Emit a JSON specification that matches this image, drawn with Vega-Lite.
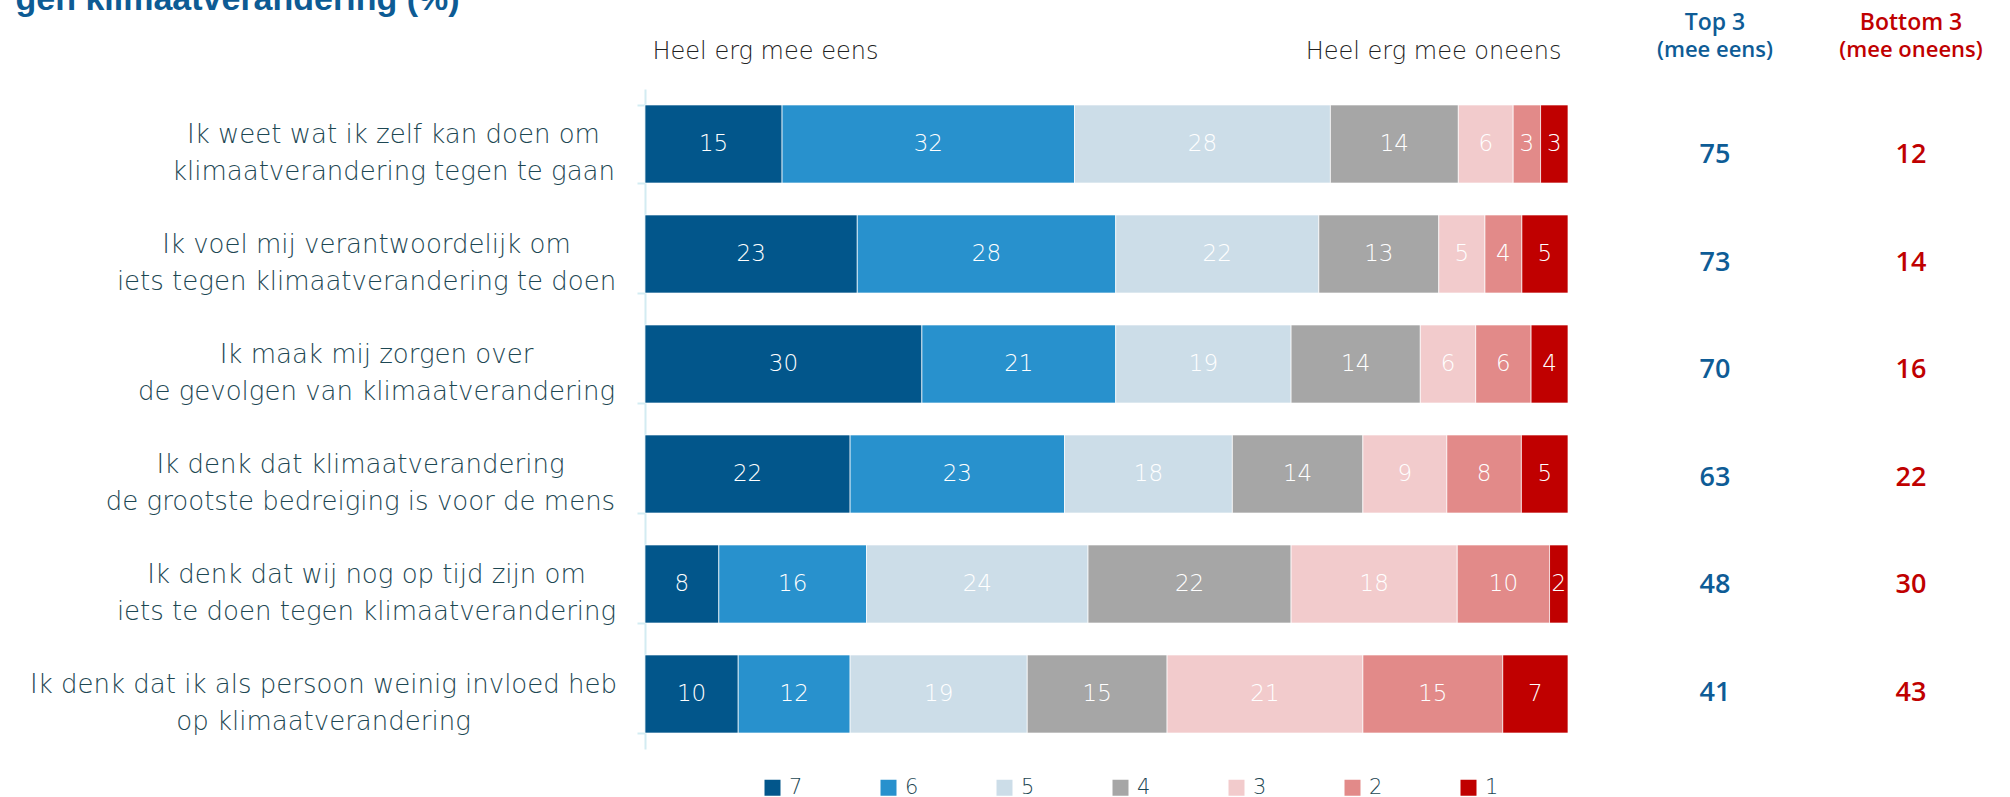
{
  "$schema": "https://vega.github.io/schema/vega-lite/v6.json",
  "padding": {"left": 15, "top": -17, "right": 0, "bottom": 0},
  "background": "white",
  "config": {"view": {"stroke": null}, "font": "DejaVu Sans"},
  "title": {"text": "gen klimaatverandering (%)", "anchor": "start", "font": "Liberation Sans", "fontSize": 34, "fontWeight": "bold", "color": "#0d5b94", "dx": -14, "offset": -5},
  "datasets": {
    "scores": [
      {"statement": "Ik weet wat ik zelf kan doen om\nklimaatverandering tegen te gaan", "score": 7, "pct": 15},
      {"statement": "Ik weet wat ik zelf kan doen om\nklimaatverandering tegen te gaan", "score": 6, "pct": 32},
      {"statement": "Ik weet wat ik zelf kan doen om\nklimaatverandering tegen te gaan", "score": 5, "pct": 28},
      {"statement": "Ik weet wat ik zelf kan doen om\nklimaatverandering tegen te gaan", "score": 4, "pct": 14},
      {"statement": "Ik weet wat ik zelf kan doen om\nklimaatverandering tegen te gaan", "score": 3, "pct": 6},
      {"statement": "Ik weet wat ik zelf kan doen om\nklimaatverandering tegen te gaan", "score": 2, "pct": 3},
      {"statement": "Ik weet wat ik zelf kan doen om\nklimaatverandering tegen te gaan", "score": 1, "pct": 3},
      {"statement": "Ik voel mij verantwoordelijk om\niets tegen klimaatverandering te doen", "score": 7, "pct": 23},
      {"statement": "Ik voel mij verantwoordelijk om\niets tegen klimaatverandering te doen", "score": 6, "pct": 28},
      {"statement": "Ik voel mij verantwoordelijk om\niets tegen klimaatverandering te doen", "score": 5, "pct": 22},
      {"statement": "Ik voel mij verantwoordelijk om\niets tegen klimaatverandering te doen", "score": 4, "pct": 13},
      {"statement": "Ik voel mij verantwoordelijk om\niets tegen klimaatverandering te doen", "score": 3, "pct": 5},
      {"statement": "Ik voel mij verantwoordelijk om\niets tegen klimaatverandering te doen", "score": 2, "pct": 4},
      {"statement": "Ik voel mij verantwoordelijk om\niets tegen klimaatverandering te doen", "score": 1, "pct": 5},
      {"statement": "Ik maak mij zorgen over\nde gevolgen van klimaatverandering", "score": 7, "pct": 30},
      {"statement": "Ik maak mij zorgen over\nde gevolgen van klimaatverandering", "score": 6, "pct": 21},
      {"statement": "Ik maak mij zorgen over\nde gevolgen van klimaatverandering", "score": 5, "pct": 19},
      {"statement": "Ik maak mij zorgen over\nde gevolgen van klimaatverandering", "score": 4, "pct": 14},
      {"statement": "Ik maak mij zorgen over\nde gevolgen van klimaatverandering", "score": 3, "pct": 6},
      {"statement": "Ik maak mij zorgen over\nde gevolgen van klimaatverandering", "score": 2, "pct": 6},
      {"statement": "Ik maak mij zorgen over\nde gevolgen van klimaatverandering", "score": 1, "pct": 4},
      {"statement": "Ik denk dat klimaatverandering\nde grootste bedreiging is voor de mens", "score": 7, "pct": 22},
      {"statement": "Ik denk dat klimaatverandering\nde grootste bedreiging is voor de mens", "score": 6, "pct": 23},
      {"statement": "Ik denk dat klimaatverandering\nde grootste bedreiging is voor de mens", "score": 5, "pct": 18},
      {"statement": "Ik denk dat klimaatverandering\nde grootste bedreiging is voor de mens", "score": 4, "pct": 14},
      {"statement": "Ik denk dat klimaatverandering\nde grootste bedreiging is voor de mens", "score": 3, "pct": 9},
      {"statement": "Ik denk dat klimaatverandering\nde grootste bedreiging is voor de mens", "score": 2, "pct": 8},
      {"statement": "Ik denk dat klimaatverandering\nde grootste bedreiging is voor de mens", "score": 1, "pct": 5},
      {"statement": "Ik denk dat wij nog op tijd zijn om\niets te doen tegen klimaatverandering", "score": 7, "pct": 8},
      {"statement": "Ik denk dat wij nog op tijd zijn om\niets te doen tegen klimaatverandering", "score": 6, "pct": 16},
      {"statement": "Ik denk dat wij nog op tijd zijn om\niets te doen tegen klimaatverandering", "score": 5, "pct": 24},
      {"statement": "Ik denk dat wij nog op tijd zijn om\niets te doen tegen klimaatverandering", "score": 4, "pct": 22},
      {"statement": "Ik denk dat wij nog op tijd zijn om\niets te doen tegen klimaatverandering", "score": 3, "pct": 18},
      {"statement": "Ik denk dat wij nog op tijd zijn om\niets te doen tegen klimaatverandering", "score": 2, "pct": 10},
      {"statement": "Ik denk dat wij nog op tijd zijn om\niets te doen tegen klimaatverandering", "score": 1, "pct": 2},
      {"statement": "Ik denk dat ik als persoon weinig invloed heb\nop klimaatverandering", "score": 7, "pct": 10},
      {"statement": "Ik denk dat ik als persoon weinig invloed heb\nop klimaatverandering", "score": 6, "pct": 12},
      {"statement": "Ik denk dat ik als persoon weinig invloed heb\nop klimaatverandering", "score": 5, "pct": 19},
      {"statement": "Ik denk dat ik als persoon weinig invloed heb\nop klimaatverandering", "score": 4, "pct": 15},
      {"statement": "Ik denk dat ik als persoon weinig invloed heb\nop klimaatverandering", "score": 3, "pct": 21},
      {"statement": "Ik denk dat ik als persoon weinig invloed heb\nop klimaatverandering", "score": 2, "pct": 15},
      {"statement": "Ik denk dat ik als persoon weinig invloed heb\nop klimaatverandering", "score": 1, "pct": 7}
    ],
    "summary": [
      {"statement": "Ik weet wat ik zelf kan doen om\nklimaatverandering tegen te gaan", "top3": 75, "bottom3": 12},
      {"statement": "Ik voel mij verantwoordelijk om\niets tegen klimaatverandering te doen", "top3": 73, "bottom3": 14},
      {"statement": "Ik maak mij zorgen over\nde gevolgen van klimaatverandering", "top3": 70, "bottom3": 16},
      {"statement": "Ik denk dat klimaatverandering\nde grootste bedreiging is voor de mens", "top3": 63, "bottom3": 22},
      {"statement": "Ik denk dat wij nog op tijd zijn om\niets te doen tegen klimaatverandering", "top3": 48, "bottom3": 30},
      {"statement": "Ik denk dat ik als persoon weinig invloed heb\nop klimaatverandering", "top3": 41, "bottom3": 43}
    ]
  },
  "spacing": 46,
  "bounds": "flush",
  "resolve": {"scale": {"y": "independent", "color": "independent"}, "legend": {"color": "independent"}},
  "hconcat": [
    {
      "width": 923,
      "height": 660,
      "data": {"name": "scores"},
      "encoding": {
        "y": {
          "field": "statement", "type": "nominal", "sort": null,
          "scale": {"paddingInner": 0.29, "paddingOuter": 0.145},
          "axis": {
            "title": null,
            "labelExpr": "isValid(datum.value) ? split(datum.value, '\\n') : ''",
            "labelAlign": "center",
            "labelBaseline": "middle",
            "labelFont": "DejaVu Sans",
            "labelFontSize": 26,
            "labelFontWeight": 200,
            "labelColor": "#1d4753",
            "labelLineHeight": 37,
            "labelOffset": -10,
            "labelLimit": 1000,
            "labelPadding": {
              "condition": [
                {"test": "isValid(datum.value) && indexof(datum.value, 'Ik weet') >= 0", "value": 244},
                {"test": "isValid(datum.value) && indexof(datum.value, 'Ik voel') >= 0", "value": 271},
                {"test": "isValid(datum.value) && indexof(datum.value, 'Ik maak') >= 0", "value": 261},
                {"test": "isValid(datum.value) && indexof(datum.value, 'bedreiging') >= 0", "value": 277},
                {"test": "isValid(datum.value) && indexof(datum.value, 'op tijd') >= 0", "value": 271}
              ],
              "value": 314
            },
            "domainColor": "#d3ecf2",
            "domainWidth": 2,
            "ticks": true,
            "tickBand": "extent",
            "tickColor": "#d3ecf2",
            "tickWidth": 2,
            "tickSize": 8,
            "grid": false
          }
        },
        "x": {
          "field": "pct", "type": "quantitative", "stack": "normalize",
          "scale": {"domain": [0, 1]},
          "axis": {
            "orient": "top",
            "title": null,
            "values": [0, 1],
            "labelExpr": "datum.value == 0 ? 'Heel erg mee eens' : 'Heel erg mee oneens'",
            "labelFlush": true,
            "labelFlushOffset": -7,
            "labelBaseline": "alphabetic",
            "labelPadding": 31,
            "labelLimit": 500,
            "labelFont": "DejaVu Sans",
            "labelFontSize": 24,
            "labelFontWeight": 200,
            "labelColor": "#222222",
            "domain": false,
            "ticks": false,
            "grid": false
          }
        },
        "order": {"field": "score", "sort": "descending"}
      },
      "layer": [
        {
          "mark": {"type": "bar", "stroke": "#ffffff", "strokeWidth": 1, "strokeOpacity": 0.7},
          "encoding": {
            "color": {
              "field": "score", "type": "ordinal",
              "scale": {"domain": [7, 6, 5, 4, 3, 2, 1], "range": ["#02568b", "#2891cd", "#ccdde8", "#a6a6a6", "#f2cbcc", "#e28a89", "#c00000"]},
              "legend": {
                "orient": "none", "legendX": 117, "legendY": 688,
                "direction": "horizontal", "columns": 7, "title": null,
                "symbolType": "square", "symbolSize": 256, "symbolStrokeWidth": 0,
                "labelFont": "DejaVu Sans", "labelFontSize": 21, "labelFontWeight": 200, "labelColor": "#1d4753",
                "labelOffset": 6, "columnPadding": 75, "gridAlign": "all", "padding": 0
              }
            }
          }
        },
        {
          "mark": {"type": "text", "color": "#ffffff", "font": "DejaVu Sans", "fontSize": 23, "fontWeight": 200},
          "encoding": {
            "x": {"field": "pct", "type": "quantitative", "stack": "normalize", "bandPosition": 0.5},
            "detail": {"field": "score"},
            "text": {"field": "pct", "type": "quantitative"}
          }
        }
      ]
    },
    {
      "width": 202,
      "height": 670,
      "data": {"name": "summary"},
      "title": {"text": "Top 3", "subtitle": "(mee eens)", "anchor": "middle", "font": "Open Sans", "subtitleFont": "Open Sans", "fontSize": 23, "fontWeight": 600, "subtitleFontSize": 22, "subtitleFontWeight": 600, "color": "#0e5c96", "subtitleColor": "#0e5c96", "offset": 28, "subtitlePadding": 5},
      "mark": {"type": "text", "font": "Open Sans", "fontSize": 27, "fontWeight": 600, "color": "#0e5c96"},
      "encoding": {
        "y": {"field": "statement", "type": "nominal", "sort": null, "scale": {"type": "point", "padding": 0.613}, "axis": null},
        "text": {"field": "top3", "type": "quantitative"}
      }
    },
    {
      "width": 98,
      "height": 670,
      "data": {"name": "summary"},
      "title": {"text": "Bottom 3", "subtitle": "(mee oneens)", "anchor": "middle", "font": "Open Sans", "subtitleFont": "Open Sans", "fontSize": 23, "fontWeight": 600, "subtitleFontSize": 22, "subtitleFontWeight": 600, "color": "#c00000", "subtitleColor": "#c00000", "offset": 28, "subtitlePadding": 5},
      "mark": {"type": "text", "font": "Open Sans", "fontSize": 27, "fontWeight": 600, "color": "#c00000"},
      "encoding": {
        "y": {"field": "statement", "type": "nominal", "sort": null, "scale": {"type": "point", "padding": 0.613}, "axis": null},
        "text": {"field": "bottom3", "type": "quantitative"}
      }
    }
  ]
}
